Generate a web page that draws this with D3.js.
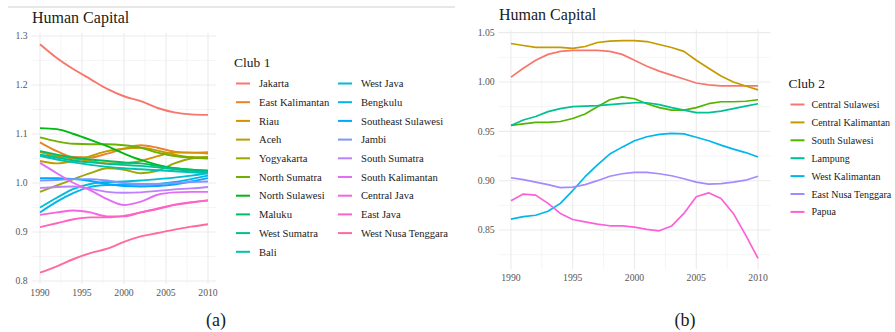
<!DOCTYPE html>
<html>
<head>
<meta charset="utf-8">
<script src="https://cdn.jsdelivr.net/npm/d3@7"></script>
<style>
  html, body { margin: 0; padding: 0; background: #fff; }
  svg { display: block; }
</style>
</head>
<body>
<svg id="chart" width="895" height="332"></svg>
<script>
// ---- Club 1 (panel a) ----
const club1Years = [1990, 1992, 1994, 1996, 1998, 2000, 2002, 2004, 2006, 2008, 2010];
const club1Regions = ["Jakarta", "East Kalimantan", "Riau", "Aceh", "Yogyakarta", "North Sumatra",
  "North Sulawesi", "Maluku", "West Sumatra", "Bali", "West Java", "Bengkulu", "Southeast Sulawesi",
  "Jambi", "South Sumatra", "South Kalimantan", "Central Java", "East Java", "West Nusa Tenggara"];
const club1Values = [
  [1.283, 1.255, 1.232, 1.212, 1.192, 1.177, 1.167, 1.153, 1.144, 1.140, 1.139],
  [1.083, 1.065, 1.053, 1.052, 1.060, 1.070, 1.077, 1.072, 1.064, 1.062, 1.063],
  [1.063, 1.055, 1.050, 1.045, 1.040, 1.040, 1.045, 1.055, 1.062, 1.062, 1.060],
  [1.045, 1.040, 1.045, 1.055, 1.065, 1.070, 1.072, 1.066, 1.058, 1.053, 1.052],
  [0.982, 0.995, 1.008, 1.020, 1.030, 1.027, 1.020, 1.025, 1.040, 1.050, 1.053],
  [1.093, 1.085, 1.080, 1.079, 1.079, 1.077, 1.072, 1.062, 1.055, 1.052, 1.050],
  [1.112, 1.110, 1.100, 1.088, 1.075, 1.060, 1.047, 1.037, 1.030, 1.027, 1.025],
  [1.065, 1.058, 1.052, 1.048, 1.045, 1.042, 1.040, 1.035, 1.030, 1.027, 1.025],
  [1.058, 1.052, 1.046, 1.042, 1.039, 1.037, 1.035, 1.032, 1.028, 1.025, 1.023],
  [1.055, 1.048, 1.042, 1.037, 1.033, 1.030, 1.028, 1.026, 1.024, 1.022, 1.020],
  [0.950, 0.970, 0.988, 0.998, 1.002, 1.003, 1.005, 1.008, 1.011, 1.015, 1.020],
  [0.940, 0.962, 0.980, 0.992, 0.996, 0.997, 0.997, 0.998, 1.002, 1.008, 1.015],
  [1.010, 1.010, 1.008, 1.004, 0.998, 0.994, 0.993, 0.994, 0.997, 1.003, 1.010],
  [1.005, 1.006, 1.008, 1.008, 1.005, 1.000, 0.998, 0.998, 1.000, 1.002, 1.003],
  [0.990, 0.992, 0.993, 0.988, 0.982, 0.980, 0.981, 0.984, 0.987, 0.989, 0.992],
  [1.041, 1.020, 1.000, 0.985, 0.967, 0.955, 0.962, 0.976, 0.981, 0.982, 0.982],
  [0.935, 0.940, 0.944, 0.940, 0.932, 0.932, 0.940, 0.948, 0.956, 0.961, 0.964],
  [0.910, 0.918, 0.926, 0.930, 0.930, 0.933, 0.940, 0.947, 0.955, 0.960, 0.965],
  [0.817, 0.830, 0.845, 0.857, 0.866, 0.880, 0.891, 0.898, 0.905, 0.911, 0.916]
];
const club1YTicks = [0.8, 0.9, 1.0, 1.1, 1.2, 1.3];

// ---- Club 2 (panel b) ----
const club2Years = d3.range(1990, 2011);
const club2Regions = ["Central Sulawesi", "Central Kalimantan", "South Sulawesi", "Lampung",
  "West Kalimantan", "East Nusa Tenggara", "Papua"];
const club2Values = [
  [1.005, 1.014, 1.022, 1.028, 1.031, 1.032, 1.032, 1.032, 1.031, 1.028, 1.022, 1.016, 1.011, 1.007, 1.003, 0.999, 0.997, 0.996, 0.996, 0.996, 0.996],
  [1.039, 1.037, 1.035, 1.035, 1.035, 1.034, 1.036, 1.040, 1.0415, 1.042, 1.042, 1.041, 1.038, 1.035, 1.031, 1.022, 1.014, 1.006, 1.000, 0.996, 0.992],
  [0.956, 0.9575, 0.959, 0.959, 0.960, 0.963, 0.9675, 0.975, 0.982, 0.985, 0.983, 0.978, 0.974, 0.9715, 0.9715, 0.974, 0.978, 0.980, 0.980, 0.9805, 0.982],
  [0.956, 0.9615, 0.965, 0.970, 0.973, 0.975, 0.9755, 0.976, 0.977, 0.978, 0.979, 0.979, 0.977, 0.974, 0.9715, 0.969, 0.969, 0.9705, 0.973, 0.9755, 0.978],
  [0.861, 0.8635, 0.865, 0.869, 0.877, 0.890, 0.904, 0.916, 0.927, 0.934, 0.9405, 0.9445, 0.947, 0.948, 0.9475, 0.944, 0.9405, 0.936, 0.932, 0.9285, 0.924],
  [0.903, 0.901, 0.8985, 0.896, 0.893, 0.8935, 0.896, 0.900, 0.9045, 0.907, 0.9085, 0.9085, 0.907, 0.905, 0.902, 0.8985, 0.8965, 0.897, 0.8985, 0.9005, 0.9045],
  [0.8796, 0.8864, 0.8854, 0.877, 0.8668, 0.8607, 0.8583, 0.856, 0.8543, 0.8543, 0.853, 0.8506, 0.8492, 0.854, 0.8668, 0.8837, 0.8877, 0.882, 0.8668, 0.8448, 0.8212]
];
const club2YTicks = [0.85, 0.90, 0.95, 1.00, 1.05];
const xTicks = [1990, 1995, 2000, 2005, 2010];

const FONT = "Liberation Serif";

// Evenly spaced hues in the HCL (polar Luv) space, L = 65, C = 100
function hueColor(h) {
  const L = 65, C = 100, hr = h * Math.PI / 180;
  const u = C * Math.cos(hr), v = C * Math.sin(hr);
  const Y = Math.pow((L + 16) / 116, 3);
  const Xn = 0.95047, Yn = 1, Zn = 1.08883;
  const den = Xn + 15 * Yn + 3 * Zn;
  const un = 4 * Xn / den, vn = 9 * Yn / den;
  const up = u / (13 * L) + un, vp = v / (13 * L) + vn;
  const X = Y * 9 * up / (4 * vp);
  const Z = Y * (12 - 3 * up - 20 * vp) / (4 * vp);
  const lin = [
    3.2404542 * X - 1.5371385 * Y - 0.4985314 * Z,
    -0.9692660 * X + 1.8760108 * Y + 0.0415560 * Z,
    0.0556434 * X - 0.2040259 * Y + 1.0572252 * Z
  ];
  const ch = lin.map(c => {
    const s = c <= 0.0031308 ? 12.92 * c : 1.055 * Math.pow(c, 1 / 2.4) - 0.055;
    return Math.round(255 * Math.max(0, Math.min(1, s)));
  });
  return d3.rgb(ch[0], ch[1], ch[2]).formatHex();
}
function huePalette(n) {
  return d3.range(n).map(i => hueColor(15 + 360 * i / n));
}

const svg = d3.select("#chart");

// thin rule across the top of panel (a)
svg.append("line").attr("x1", 8).attr("x2", 455).attr("y1", 7).attr("y2", 7)
  .attr("stroke", "#cfcfcf").attr("stroke-width", 1);

function drawPanel(opt) {
  const g = svg.append("g");
  const x = d3.scaleLinear().domain([1989, 2011]).range(opt.xRange);
  const y = d3.scaleLinear().domain(opt.yDomain).range(opt.yRange);

  // minor grid
  const minorX = xTicks.slice(0, -1).map(t => t + 2.5);
  const minorY = opt.yTicks.slice(0, -1).map((t, i) => (t + opt.yTicks[i + 1]) / 2)
    .concat(opt.extraMinorY || []);
  g.selectAll(".minor-x").data(minorX).join("line")
    .attr("x1", d => x(d)).attr("x2", d => x(d))
    .attr("y1", opt.yRange[1]).attr("y2", opt.yRange[0])
    .attr("stroke", "#f3f3f3").attr("stroke-width", 0.8);
  g.selectAll(".minor-y").data(minorY).join("line")
    .attr("y1", d => y(d)).attr("y2", d => y(d))
    .attr("x1", opt.xRange[0]).attr("x2", opt.xRange[1])
    .attr("stroke", "#f3f3f3").attr("stroke-width", 0.8);
  // major grid
  g.selectAll(".major-x").data(xTicks).join("line")
    .attr("x1", d => x(d)).attr("x2", d => x(d))
    .attr("y1", opt.yRange[1]).attr("y2", opt.yRange[0])
    .attr("stroke", "#ebebeb").attr("stroke-width", 1.1);
  g.selectAll(".major-y").data(opt.yTicks).join("line")
    .attr("y1", d => y(d)).attr("y2", d => y(d))
    .attr("x1", opt.xRange[0]).attr("x2", opt.xRange[1])
    .attr("stroke", "#ebebeb").attr("stroke-width", 1.1);

  // tick labels
  g.selectAll(".ylab").data(opt.yTicks).join("text")
    .attr("font-family", FONT).attr("font-size", 9.7).attr("fill", "#555")
    .attr("x", opt.xRange[0] - 4).attr("y", d => y(d)).attr("dy", "0.33em")
    .attr("text-anchor", "end").text(d => d3.format(opt.yFormat)(d));
  g.selectAll(".xlab").data(xTicks).join("text")
    .attr("font-family", FONT).attr("font-size", 9.7).attr("fill", "#555")
    .attr("x", d => x(d)).attr("y", opt.yRange[0] + 12)
    .attr("text-anchor", "middle").text(d => d);

  // series
  const colors = huePalette(opt.regions.length);
  const line = d3.line().x((d, i) => x(opt.years[i])).y(d => y(d)).curve(opt.curve);
  g.selectAll(".series").data(opt.values).join("path")
    .attr("fill", "none")
    .attr("stroke", (d, i) => colors[i])
    .attr("stroke-width", opt.lineWidth)
    .attr("stroke-linejoin", "round")
    .attr("d", line);

  // title
  g.append("text").attr("font-family", FONT).attr("font-size", 16).attr("fill", "#1a1a1a")
    .attr("x", opt.titlePos[0]).attr("y", opt.titlePos[1]).text("Human Capital");

  // legend
  const lg = g.append("g");
  lg.append("text").attr("font-family", FONT).attr("font-size", 13.5).attr("fill", "#1a1a1a")
    .attr("x", opt.legend.x).attr("y", opt.legend.titleY).text(opt.legend.title);
  const rows = opt.legend.rows;
  const items = lg.selectAll(".item").data(opt.regions).join("g")
    .attr("transform", (d, i) => {
      const col = Math.floor(i / rows), row = i % rows;
      return `translate(${opt.legend.x + 2 + col * opt.legend.colW},${opt.legend.firstY + row * opt.legend.rowH})`;
    });
  items.append("line").attr("x1", 0).attr("x2", 14).attr("y1", 0).attr("y2", 0)
    .attr("stroke", (d, i) => colors[i]).attr("stroke-width", 2);
  items.append("text").attr("font-family", FONT).attr("font-size", opt.legend.fontSize)
    .attr("fill", "#1a1a1a")
    .attr("x", opt.legend.labelDx).attr("y", 0).attr("dy", "0.35em").text(d => d);

  // caption
  g.append("text").attr("font-family", FONT).attr("font-size", 18).attr("fill", "#1a1a1a")
    .attr("text-anchor", "middle")
    .attr("x", opt.caption[0]).attr("y", opt.caption[1]).text(opt.caption[2]);
}

drawPanel({
  years: club1Years, regions: club1Regions, values: club1Values,
  yTicks: club1YTicks, yFormat: ".1f", yDomain: [0.794, 1.306],
  xRange: [31.6, 216.4], yRange: [284, 33],
  curve: d3.curveMonotoneX, lineWidth: 1.9,
  titlePos: [32, 23],
  legend: { title: "Club 1", x: 234, titleY: 67, firstY: 83.5, rowH: 18.7, rows: 10, colW: 102, fontSize: 10.6, labelDx: 23 },
  caption: [216, 326, "(a)"]
});

drawPanel({
  years: club2Years, regions: club2Regions, values: club2Values,
  yTicks: club2YTicks, yFormat: ".2f", yDomain: [0.8102, 1.053],
  extraMinorY: [0.825],
  xRange: [498.6, 770.4], yRange: [269.3, 29.7],
  curve: d3.curveLinear, lineWidth: 1.7,
  titlePos: [499, 20],
  legend: { title: "Club 2", x: 788.5, titleY: 88, firstY: 104.5, rowH: 17.9, rows: 7, colW: 0, fontSize: 10, labelDx: 21 },
  caption: [685, 326, "(b)"]
});
</script>
</body>
</html>
